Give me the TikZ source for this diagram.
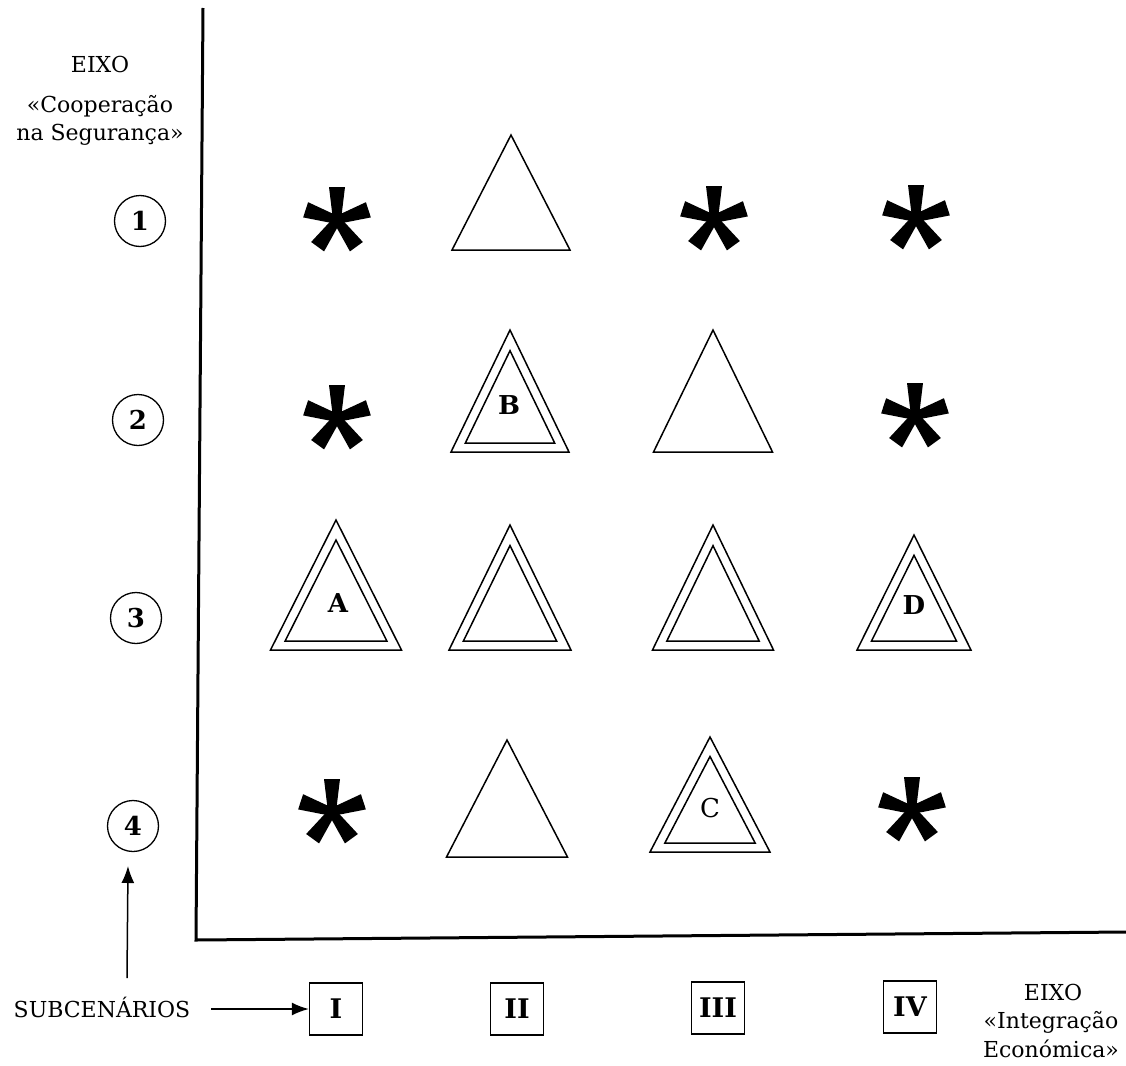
\documentclass[tikz,border=0pt]{standalone}
\usepackage{fontspec}
\setmainfont{DejaVu Serif}
\usetikzlibrary{arrows.meta}

\newcommand{\singletri}[4]{%
  \draw[tri] (#1,#2) -- ({#1-#4},#3) -- ({#1+#4},#3) -- cycle;}
\newcommand{\doubletri}[4]{%
  \pgfmathsetmacro{\trH}{#3-#2}%
  \pgfmathsetmacro{\trS}{veclen(#4,\trH)}%
  \pgfmathsetmacro{\trR}{#4/(#4+\trS)*\trH}%
  \pgfmathsetmacro{\trIY}{#3-\trR}%
  \pgfmathsetmacro{\trK}{(\trR-9)/\trR}%
  \pgfmathsetmacro{\trA}{\trIY-(\trIY-#2)*\trK}%
  \pgfmathsetmacro{\trB}{\trIY+\trR*\trK}%
  \pgfmathsetmacro{\trW}{#4*\trK}%
  \draw[tri] (#1,#2) -- ({#1-#4},#3) -- ({#1+#4},#3) -- cycle;
  \draw[tri] (#1,\trA) -- ({#1-\trW},\trB) -- ({#1+\trW},\trB) -- cycle;}
\newcommand{\astk}[2]{%
  \begin{scope}[shift={(#1,#2)}]
    \foreach \a in {0,72,144,216,288}{
      \fill[rotate=\a] (-4,0) -- (-8,-33) -- (8,-33) -- (4,0) -- cycle;}
  \end{scope}}

\begin{document}
\begin{tikzpicture}[x=1pt,y=-1pt,
  txt/.style={font=\fontsize{22}{25}\selectfont, inner sep=0pt, anchor=base},
  num/.style={circle, draw, line width=1.3pt, minimum size=51pt, inner sep=0pt, font=\fontsize{26}{28}\selectfont\bfseries},
  roman/.style={draw, line width=1.4pt, minimum width=53pt, minimum height=52pt, inner sep=0pt, font=\fontsize{27}{29}\selectfont\bfseries},
  letter/.style={font=\fontsize{26}{28}\selectfont\bfseries, inner sep=0pt},
  tri/.style={line width=1.5pt, line join=miter},
  axis/.style={line width=3pt},
  arr/.style={line width=1.5pt, -{Latex[length=17pt,width=13pt]}}]
\useasboundingbox (0,0) rectangle (1126,1065);

% axes
\draw[axis] (203,8) -- (196,940) -- (1126,932);

% vertical axis label
\node[txt] (ey1) at (100,73) {EIXO};
\node[txt] (ey2) at (100,112) {«Cooperação};
\node[txt] (ey3) at (100,140) {na Segurança»};

% row numbers
\node[num] (r1) at (140,221) {1};
\node[num] (r2) at (138,420) {2};
\node[num] (r3) at (136,618) {3};
\node[num] (r4) at (133,826) {4};

% subscenarios
\node[roman] (c1) at (336,1009) {I};
\node[roman] (c2) at (517,1009) {II};
\node[roman] (c3) at (718,1008) {III};
\node[roman] (c4) at (910,1007) {IV};

\node[txt] (sub) at (102,1017) {SUBCENÁRIOS};
\coordinate (upstart) at (127,978);
\coordinate (upend) at (128,866);
\draw[arr] (upstart) -- (upend);
\coordinate (hstart) at (211,1009);
\draw[arr] (hstart) -- (c1.west);

% horizontal axis label
\node[txt] (ex1) at (1053,1000) {EIXO};
\node[txt] (ex2) at (1051,1028) {«Integração};
\node[txt] (ex3) at (1051,1057) {Económica»};

% row 1
\astk{337}{220}
\singletri{511}{135}{250}{59}
\astk{714}{219}
\astk{916}{218}

% row 2
\astk{337}{418}
\doubletri{510}{330}{452}{59}
\node[letter] (B) at (509,405) {B};
\singletri{713}{330}{452}{59.5}
\astk{915}{416}

% row 3
\doubletri{336}{520}{650}{65.5}
\node[letter] (A) at (338,603) {A};
\doubletri{510}{525}{650}{61}
\doubletri{713}{525}{650}{60.5}
\doubletri{914}{535}{650}{57}
\node[letter] (D) at (914,605) {D};

% row 4
\astk{332}{812}
\singletri{507}{740}{857}{60.5}
\doubletri{710}{737}{852}{60}
\node[letter, font=\fontsize{26}{28}\selectfont] (C) at (710,808) {C};
\astk{912}{810}
\end{tikzpicture}
\end{document}
